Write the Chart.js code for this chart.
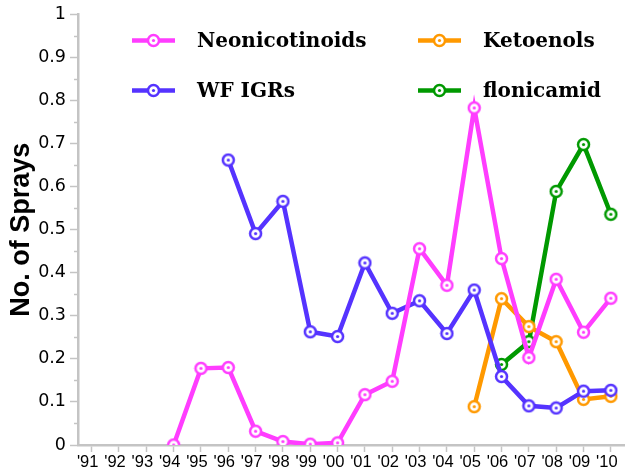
<!DOCTYPE html>
<html>
<head>
<meta charset="utf-8">
<script src="https://cdn.jsdelivr.net/npm/chart.js@4"></script>
<style>
  html, body { margin: 0; padding: 0; background: #fff; }
  #wrap { width: 635px; height: 473px; }
</style>
</head>
<body>
<div id="wrap"><canvas id="sprays" width="635" height="473"></canvas></div>
<script>
// years on the x axis
const years = ["'91","'92","'93","'94","'95","'96","'97","'98","'99","'00",
               "'01","'02","'03","'04","'05","'06","'07","'08","'09","'10"];

// average number of sprays per season (null = not used yet)
const neonicotinoids = [null, null, null, 0, 0.178, 0.180, 0.032, 0.008, 0.002, 0.005,
                        0.117, 0.148, 0.456, 0.371, 0.783, 0.433, 0.203, 0.385, 0.262, 0.341];
const wfIgrs = [null, null, null, null, null, 0.662, 0.491, 0.566, 0.263, 0.252,
                0.423, 0.306, 0.335, 0.259, 0.360, 0.159, 0.091, 0.086, 0.125, 0.127];
const ketoenols = [null, null, null, null, null, null, null, null, null, null,
                   null, null, null, null, 0.089, 0.340, 0.275, 0.240, 0.106, 0.113];
const flonicamid = [null, null, null, null, null, null, null, null, null, null,
                    null, null, null, null, null, 0.187, 0.240, 0.589, 0.698, 0.536];

const seriesNames = ['Neonicotinoids', 'WF IGRs', 'Ketoenols', 'flonicamid'];
const seriesColors = ['#ff3dff', '#5533ff', '#ff9900', '#009900'];

// ring marker with a dot in the middle
function makeMarker(color) {
    const c = document.createElement('canvas');
    c.width = 15; c.height = 15;
    const g = c.getContext('2d');
    g.beginPath();
    g.arc(7.5, 7.5, 5.5, 0, Math.PI * 2);
    g.fillStyle = '#fff';
    g.fill();
    g.lineWidth = 2.5;
    g.strokeStyle = color;
    g.stroke();
    g.beginPath();
    g.arc(7.5, 7.5, 1.6, 0, Math.PI * 2);
    g.fillStyle = color;
    g.fill();
    return c;
}
const markers = seriesColors.map(makeMarker);

function line(label, data, i) {
    return {
        label: label,
        data: data,
        borderColor: seriesColors[i],
        backgroundColor: '#fff',
        borderWidth: 4.5,
        pointStyle: markers[i],
        pointRadius: 6,
        spanGaps: false,
        tension: 0
    };
}

// small ticks halfway between the y labels
const minorTicks = {
    id: 'minorTicks',
    afterDraw(chart) {
        const y = chart.scales.y;
        const ctx = chart.ctx;
        ctx.save();
        ctx.strokeStyle = '#c4c4c4';
        ctx.lineWidth = 1.5;
        for (let v = 0.05; v < 1; v += 0.1) {
            const py = Math.round(y.getPixelForValue(v)) + 0.5;
            ctx.beginPath();
            ctx.moveTo(y.right - 4, py);
            ctx.lineTo(y.right, py);
            ctx.stroke();
        }
        ctx.restore();
    }
};

// two-column legend inside the plot
const boxLegend = {
    id: 'boxLegend',
    afterDraw(chart) {
        const ctx = chart.ctx;
        const a = chart.chartArea;
        const cols = [a.left + 54, a.left + 340];
        const rows = [a.top + 26, a.top + 76];
        const order = [[0, 0, 0], [2, 1, 0], [1, 0, 1], [3, 1, 1]];
        ctx.save();
        ctx.font = 'bold 20px "DejaVu Serif"';
        ctx.textBaseline = 'middle';
        ctx.fillStyle = '#000';
        order.forEach(([i, c, r]) => {
            const x = cols[c], yy = rows[r];
            ctx.strokeStyle = seriesColors[i];
            ctx.lineWidth = 4.5;
            ctx.beginPath();
            ctx.moveTo(x, yy);
            ctx.lineTo(x + 43, yy);
            ctx.stroke();
            ctx.drawImage(markers[i], x + 21.5 - 7.5, yy - 7.5);
            ctx.fillText(seriesNames[i], x + 65, yy + 1);
        });
        ctx.restore();
    }
};

new Chart(document.getElementById('sprays'), {
    type: 'line',
    data: {
        labels: years,
        datasets: [
            line(seriesNames[0], neonicotinoids, 0),
            line(seriesNames[1], wfIgrs, 1),
            line(seriesNames[2], ketoenols, 2),
            line(seriesNames[3], flonicamid, 3)
        ]
    },
    options: {
        responsive: false,
        animation: false,
        layout: { padding: { top: 12, right: 5, left: 0, bottom: 0 } },
        plugins: {
            legend: { display: false },
            tooltip: { enabled: false }
        },
        scales: {
            x: {
                offset: true,
                grid: { drawOnChartArea: false, tickLength: 7, tickColor: '#c4c4c4', tickWidth: 1.5 },
                border: { color: '#c4c4c4', width: 2.5 },
                ticks: {
                    color: '#000', padding: 1, maxRotation: 0, autoSkip: false, labelOffset: -4,
                    font: { family: '"Liberation Sans"', size: 16.5 }
                },
                afterFit(s) { s.height = 28; }
            },
            y: {
                min: 0, max: 1,
                grid: { drawOnChartArea: false, tickLength: 8, tickColor: '#c4c4c4', tickWidth: 1.5 },
                border: { color: '#c4c4c4', width: 2.5 },
                ticks: {
                    stepSize: 0.1, color: '#000', padding: 4,
                    font: { family: '"DejaVu Sans"', size: 17.5 },
                    callback: v => String(Math.round(v * 10) / 10)
                },
                title: {
                    display: true, text: 'No. of Sprays', color: '#000',
                    font: { family: '"Liberation Sans"', weight: 'bold', size: 27 },
                    padding: { top: 5, bottom: 0 }
                },
                afterFit(s) { s.width = 78; }
            }
        }
    },
    plugins: [minorTicks, boxLegend]
});
</script>
</body>
</html>
